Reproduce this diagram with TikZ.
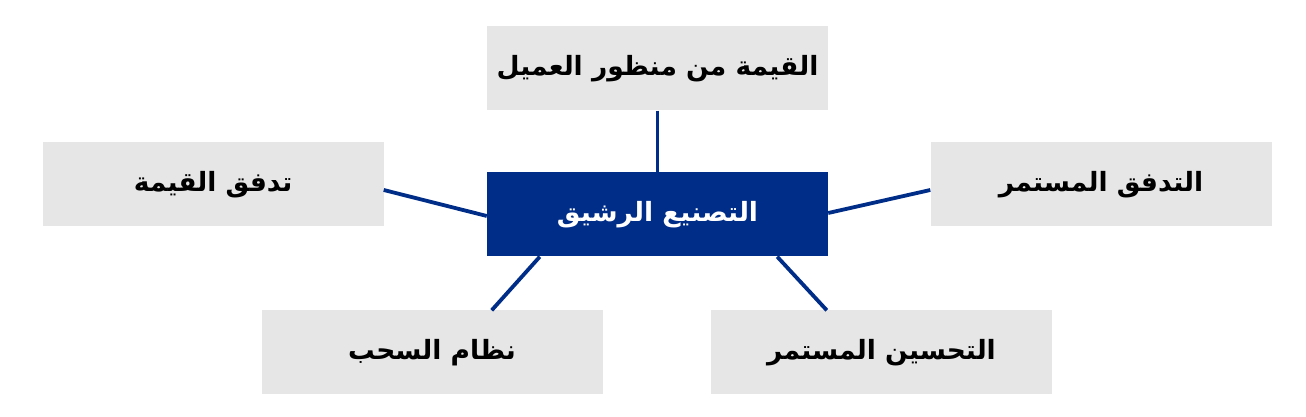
\documentclass[tikz,border=0pt]{standalone}
\usepackage{fontspec}
\TeXXeTstate=1
\newfontfamily\arabicfont[Script=Arabic]{DejaVu Sans}
\definecolor{leanblue}{RGB}{0,45,135}
\definecolor{boxgray}{RGB}{230,230,230}
\tikzset{
  graybox/.style={fill=boxgray, draw=none, minimum width=341pt, minimum height=84pt, inner sep=0pt,
    font=\arabicfont\bfseries\fontsize{26.5}{30}\selectfont, text=black},
  mainbox/.style={fill=leanblue, draw=none, minimum width=341pt, minimum height=84pt, inner sep=0pt,
    font=\arabicfont\bfseries\fontsize{26.5}{30}\selectfont, text=white},
  link/.style={draw=leanblue, line width=3.8pt}
}
\begin{document}
\begin{tikzpicture}[x=1pt,y=1pt]
  \fill[white] (0,0) rectangle (1306,417);
  \useasboundingbox (0,0) rectangle (1306,417);
  \node[mainbox] (c) at (657.5,202.5) {\beginR التصنيع الرشيق\endR};
  \node[graybox] (t) at (657.5,348.5) {\beginR القيمة من منظور العميل\endR};
  \node[graybox] (l) at (213,232.5) {\beginR تدفق القيمة\endR};
  \node[graybox] (r) at (1101,232.5) {\beginR التدفق المستمر\endR};
  \node[graybox] (bl) at (432,64.5) {\beginR نظام السحب\endR};
  \node[graybox] (br) at (881.5,64.5) {\beginR التحسين المستمر\endR};
  \draw[link] (t.south) -- (c.north);
  \draw[link] ([yshift=-5.5pt]l.east) -- ([yshift=-1.5pt]c.west);
  \draw[link] ([yshift=1.5pt]c.east) -- ([yshift=-5.5pt]r.west);
  \draw[link] ([xshift=53pt]c.south west) -- ([xshift=-111pt]bl.north east);
  \draw[link] ([xshift=-51pt]c.south east) -- ([xshift=116pt]br.north west);
\end{tikzpicture}
\end{document}
